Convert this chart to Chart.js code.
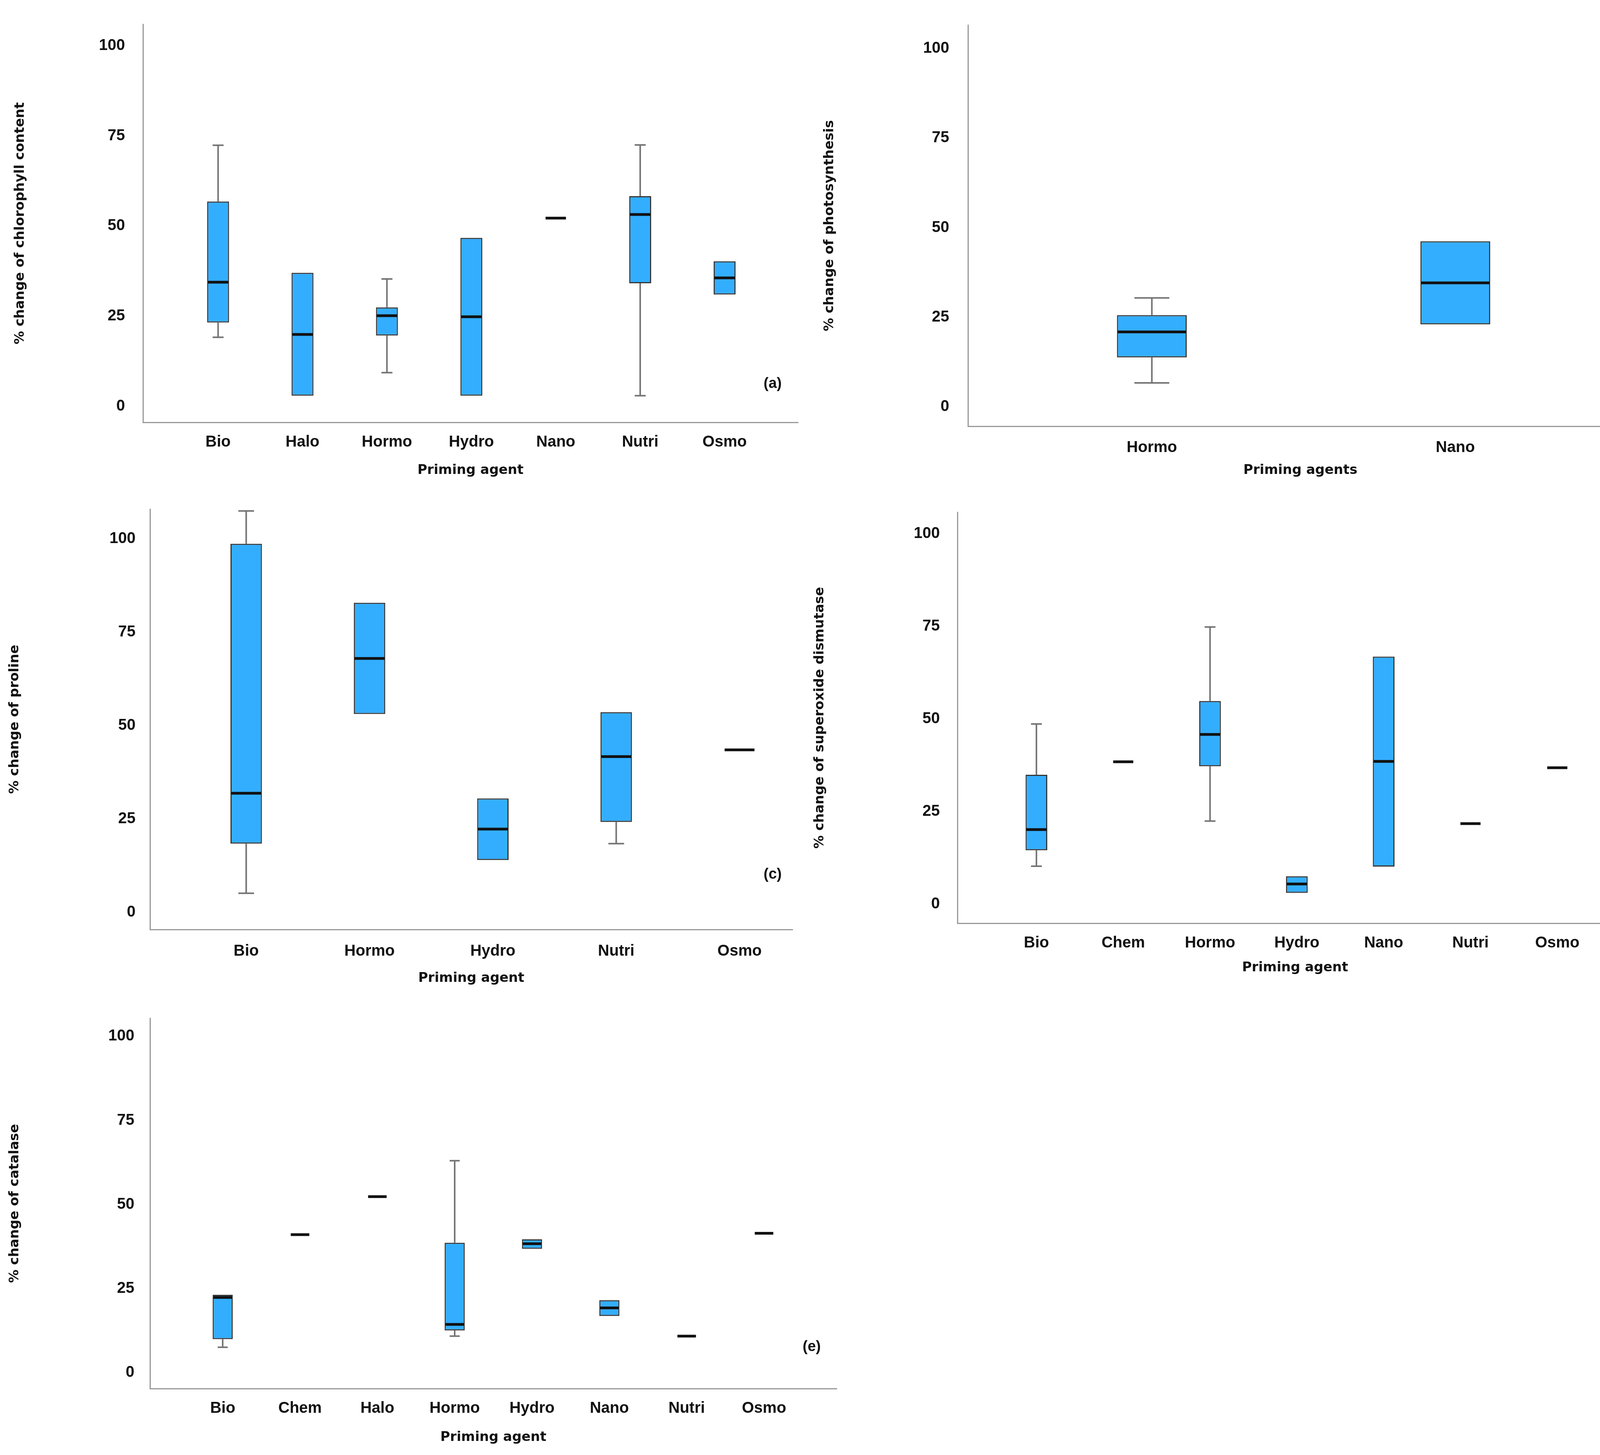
<!DOCTYPE html>
<html>
<head>
<meta charset="utf-8">
<title>Priming agents box plots</title>
<script src="https://cdn.jsdelivr.net/npm/chart.js@4.4.1/dist/chart.umd.min.js"></script>
<style>
  html, body { margin: 0; padding: 0; background: #fff; }
  body { position: relative; width: 4215px; height: 3724px; overflow: hidden; }
  canvas { position: absolute; }
</style>
</head>
<body>
<script>
// shared y ticks
const yTicks = [0, 25, 50, 75, 100];

// (a) chlorophyll content
const aCats = ['Bio', 'Halo', 'Hormo', 'Hydro', 'Nano', 'Nutri', 'Osmo'];
const aLow  = [19.1, null, 9.3, null, null, 2.9, null];
const aQ1   = [23.2, 2.9, 19.6, 2.9, 52.2, 34.1, 31.0];
const aMed  = [34.4, 19.9, 25.1, 24.8, 52.2, 53.2, 35.6];
const aQ3   = [56.8, 37.0, 27.4, 46.7, 52.2, 58.3, 40.2];
const aHigh = [72.4, null, 35.3, null, null, 72.5, null];

// (b) photosynthesis
const bCats = ['Hormo', 'Nano'];
const bLow  = [6.7, null];
const bQ1   = [13.8, 23.0];
const bMed  = [20.9, 34.6];
const bQ3   = [25.6, 46.2];
const bHigh = [30.4, null];

// (c) proline
const cCats = ['Bio', 'Hormo', 'Hydro', 'Nutri', 'Osmo'];
const cLow  = [5.1, null, null, 18.4, null];
const cQ1   = [18.4, 53.1, 14.0, 24.2, 43.5];
const cMed  = [31.9, 68.0, 22.3, 41.7, 43.5];
const cQ3   = [98.7, 82.9, 30.5, 53.6, 43.5];
const cHigh = [107.5, null, null, null, null];

// (d) superoxide dismutase
const dCats = ['Bio', 'Chem', 'Hormo', 'Hydro', 'Nano', 'Nutri', 'Osmo'];
const dLow  = [10.2, null, 22.4, null, null, null, null];
const dQ1   = [14.5, 38.4, 37.2, 3.0, 10.1, 21.7, 36.8];
const dMed  = [20.1, 38.4, 45.8, 5.4, 38.5, 21.7, 36.8];
const dQ3   = [34.9, 38.4, 54.8, 7.5, 66.8, 21.7, 36.8];
const dHigh = [48.6, null, 74.8, null, null, null, null];

// (e) catalase
const eCats = ['Bio', 'Chem', 'Halo', 'Hormo', 'Hydro', 'Nano', 'Nutri', 'Osmo'];
const eLow  = [7.5, null, null, 10.8, null, null, null, null];
const eQ1   = [9.9, 41.0, 52.3, 12.5, 36.8, 16.8, 10.8, 41.4];
const eMed  = [22.3, 41.0, 52.3, 14.3, 38.3, 19.2, 10.8, 41.4];
const eQ3   = [23.1, 41.0, 52.3, 38.6, 39.6, 21.5, 10.8, 41.4];
const eHigh = [null, null, null, 63.0, null, null, null, null];

const boxFill = '#33aeff';
const boxLine = '#363636';
const whiskerColor = '#747474';
const axisColor = '#999999';
const textColor = '#111111';
const tickFont = { family: "'Liberation Sans', Arial, sans-serif", weight: 'bold', size: 40 };
const titleFont = { family: "'DejaVu Sans', sans-serif", weight: 'bold', size: 34 };

const panels = [
  { cats: aCats, low: aLow, q1: aQ1, med: aMed, q3: aQ3, high: aHigh,
    yTitle: '% change of chlorophyll content', xTitle: 'Priming agent', tag: '(a)',
    left: 0, top: 0, w: 2100, h: 1250, yW: 366, xH: 169, padTop: 27, padRight: 57,
    yMin: -4.5, yMax: 106, xMin: -0.89, xMax: 6.87, boxW: 0.26,
    yTickPad: 38, yTitlePad: 32, xTickPad: 19, xTitlePad: 25, tagDx: -65, tagY: 6.2 },
  { cats: bCats, low: bLow, q1: bQ1, med: bMed, q3: bQ3, high: bHigh,
    yTitle: '% change of photosynthesis', xTitle: 'Priming agents', tag: '(b)',
    left: 2100, top: 0, w: 2115, h: 1250, yW: 378, xH: 159, padTop: 27, padRight: 35,
    yMin: -5.4, yMax: 106.5, xMin: -0.606, xMax: 1.585, boxW: 0.23,
    yTickPad: 40, yTitlePad: 4, xTickPad: 23, xTitlePad: 25, tagDx: -35, tagY: 6.5 },
  { cats: cCats, low: cLow, q1: cQ1, med: cMed, q3: cQ3, high: cHigh,
    yTitle: '% change of proline', xTitle: 'Priming agent', tag: '(c)',
    left: 0, top: 1250, w: 2100, h: 1300, yW: 384, xH: 171, padTop: 27, padRight: 71,
    yMin: -4.6, yMax: 108, xMin: -0.78, xMax: 4.43, boxW: 0.255,
    yTickPad: 29, yTitlePad: 18, xTickPad: 24, xTitlePad: 25, tagDx: -51, tagY: 10.1 },
  { cats: dCats, low: dLow, q1: dQ1, med: dMed, q3: dQ3, high: dHigh,
    yTitle: '% change of superoxide dismutase', xTitle: 'Priming agent', tag: '(d)',
    left: 2050, top: 1250, w: 2165, h: 1300, yW: 401, xH: 187, padTop: 27, padRight: 35,
    yMin: -5.2, yMax: 105.8, xMin: -0.91, xMax: 6.87, boxW: 0.25,
    yTickPad: 37, yTitlePad: 29, xTickPad: 19, xTitlePad: 52, tagDx: -30, tagY: 8.2 },
  { cats: eCats, low: eLow, q1: eQ1, med: eMed, q3: eQ3, high: eHigh,
    yTitle: '% change of catalase', xTitle: 'Priming agent', tag: '(e)',
    left: 0, top: 2550, w: 2200, h: 1174, yW: 384, xH: 170, padTop: 22, padRight: 58,
    yMin: -4.8, yMax: 105.4, xMin: -0.94, xMax: 7.94, boxW: 0.26,
    yTickPad: 32, yTitlePad: 18, xTickPad: 19, xTitlePad: 24, tagDx: -64, tagY: 7.6 }
];

// whiskers behind the boxes, medians and panel tag on top
function boxPlotExtras(p) {
  return {
    id: 'boxPlotExtras',
    beforeDatasetsDraw(chart) {
      const { ctx, scales: { x, y } } = chart;
      const half = (x.getPixelForValue(1) - x.getPixelForValue(0)) * p.boxW / 2;
      const cap = half * 0.5;
      ctx.save();
      ctx.strokeStyle = whiskerColor;
      ctx.lineWidth = 4;
      p.cats.forEach((c, i) => {
        const cx = x.getPixelForValue(i);
        [[p.low[i], p.q1[i], p.low[i]], [p.q3[i], p.high[i], p.high[i]]].forEach(([from, to, end]) => {
          if (from == null || to == null) return;
          const ye = y.getPixelForValue(end);
          ctx.beginPath();
          ctx.moveTo(cx, y.getPixelForValue(from));
          ctx.lineTo(cx, y.getPixelForValue(to));
          ctx.moveTo(cx - cap, ye);
          ctx.lineTo(cx + cap, ye);
          ctx.stroke();
        });
      });
      ctx.restore();
    },
    afterDatasetsDraw(chart) {
      const { ctx, chartArea, scales: { x, y } } = chart;
      const half = (x.getPixelForValue(1) - x.getPixelForValue(0)) * p.boxW / 2;
      ctx.save();
      ctx.strokeStyle = '#111';
      ctx.lineWidth = 7;
      p.cats.forEach((c, i) => {
        const cx = x.getPixelForValue(i);
        const ym = y.getPixelForValue(p.med[i]);
        ctx.beginPath();
        ctx.moveTo(cx - half + 2, ym);
        ctx.lineTo(cx + half - 2, ym);
        ctx.stroke();
      });
      ctx.fillStyle = textColor;
      ctx.font = "bold 38px 'Liberation Sans', Arial, sans-serif";
      ctx.textAlign = 'center';
      ctx.textBaseline = 'middle';
      ctx.fillText(p.tag, chartArea.right + p.tagDx, y.getPixelForValue(p.tagY));
      ctx.restore();
    }
  };
}

panels.forEach(p => {
  const canvas = document.createElement('canvas');
  canvas.width = p.w;
  canvas.height = p.h;
  canvas.style.left = p.left + 'px';
  canvas.style.top = p.top + 'px';
  canvas.style.width = p.w + 'px';
  canvas.style.height = p.h + 'px';
  document.body.appendChild(canvas);

  new Chart(canvas, {
    type: 'bar',
    data: {
      datasets: [{
        data: p.cats.map((c, i) => ({ x: i, y: p.q3[i] > p.q1[i] ? [p.q1[i], p.q3[i]] : null })),
        backgroundColor: boxFill,
        borderColor: boxLine,
        borderWidth: 3,
        borderSkipped: false,
        barPercentage: p.boxW,
        categoryPercentage: 1
      }]
    },
    options: {
      responsive: false,
      animation: false,
      devicePixelRatio: 1,
      layout: { padding: { top: p.padTop, right: p.padRight, left: 0, bottom: 0 } },
      plugins: { legend: { display: false }, tooltip: { enabled: false } },
      scales: {
        x: {
          type: 'linear',
          min: p.xMin,
          max: p.xMax,
          offset: false,
          bounds: 'data',
          grid: { display: false },
          border: { display: true, color: axisColor, width: 3 },
          afterBuildTicks: s => { s.ticks = p.cats.map((c, i) => ({ value: i })); },
          afterFit: s => { s.height = p.xH; },
          ticks: {
            autoSkip: false, maxRotation: 0, padding: p.xTickPad,
            color: textColor, font: tickFont,
            callback: (v, i) => p.cats[i]
          },
          title: {
            display: true, text: p.xTitle, color: textColor, font: titleFont,
            padding: { top: 0, bottom: p.xTitlePad }
          }
        },
        y: {
          type: 'linear',
          min: p.yMin,
          max: p.yMax,
          bounds: 'data',
          grid: { display: false },
          border: { display: true, color: axisColor, width: 3 },
          afterBuildTicks: s => { s.ticks = yTicks.map(v => ({ value: v })); },
          afterFit: s => { s.width = p.yW; },
          ticks: { padding: p.yTickPad, color: textColor, font: tickFont },
          title: {
            display: true, text: p.yTitle, color: textColor, font: titleFont,
            padding: { top: p.yTitlePad, bottom: 0 }
          }
        }
      }
    },
    plugins: [boxPlotExtras(p)]
  });
});
</script>
</body>
</html>
